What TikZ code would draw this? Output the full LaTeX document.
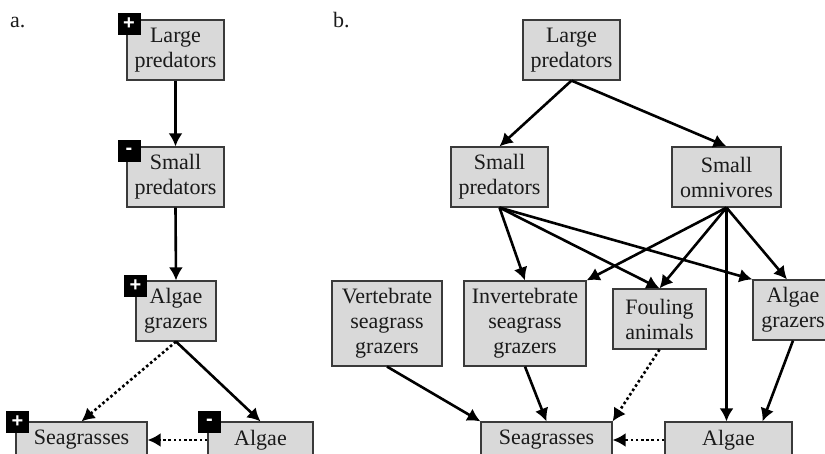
\documentclass[tikz,border=0pt]{standalone}
\usepackage{fontspec}
\setmainfont{Liberation Serif}
\newfontfamily\badgefont{Liberation Sans}
\usetikzlibrary{arrows.meta,calc}
\definecolor{boxfill}{HTML}{D9D9D9}
\definecolor{boxline}{HTML}{3A3A3A}
\definecolor{txt}{HTML}{1A1A1A}
\begin{document}
\begin{tikzpicture}[x=1pt,y=-1pt,
  box/.style={draw=boxline, fill=boxfill, line width=1.2pt, align=center, inner sep=0pt,
    font=\fontsize{22}{25}\selectfont, text=txt},
  badge/.style={fill=black, minimum width=23pt, minimum height=22pt, inner sep=0pt,
    text=white, font=\badgefont\bfseries\fontsize{20}{20}\selectfont},
  arr/.style={line width=2.6pt, -{Latex[length=13pt,width=14pt]}},
  dotarr/.style={arr, dash pattern=on 2.6pt off 2.6pt},
  lbl/.style={anchor=base west, inner sep=0pt, font=\fontsize{22}{25}\selectfont, text=txt}
]
\useasboundingbox (0,0) rectangle (825,453);
\clip (0,0) rectangle (825,453);

% panel labels
\node[lbl] (la) at (10,27) {a.};
\node[lbl] (lb) at (333,27) {b.};

% panel a
\node[box, minimum width=97pt, minimum height=60pt] (LPa) at (175.5,50) {Large\\predators};
\node[box, minimum width=97pt, minimum height=60pt] (SPa) at (175.5,177) {Small\\predators};
\node[box, minimum width=80pt, minimum height=60pt] (AGa) at (176,311) {Algae\\grazers};
\node[box, minimum width=131pt, minimum height=36pt] (SGa) at (81.5,440) {Seagrasses};
\node[box, minimum width=105pt, minimum height=36pt] (ALa) at (260.5,440) {Algae};

\node[badge] (bLPa) at (129,24) {+};
\node[badge] (bSPa) at (129,151) {-};
\node[badge] (bAGa) at (135.5,285.5) {+};
\node[badge] (bSGa) at (17.5,422) {+};
\node[badge] (bALa) at (209.5,422) {-};

\draw[arr] (LPa.south) -- (SPa.north);
\draw[arr] (SPa.south) -- (AGa.north);
\draw[dotarr] (AGa.south) -- (SGa.north);
\draw[arr] (AGa.south) -- (ALa.north);
\draw[dotarr] (ALa.west) -- (SGa.east);

% panel b
\node[box, minimum width=97pt, minimum height=60pt] (LPb) at (571.5,50) {Large\\predators};
\node[box, minimum width=97pt, minimum height=60pt] (SPb) at (499.5,177) {Small\\predators};
\node[box, minimum width=109pt, minimum height=60pt] (SOb) at (726.5,177) {Small\\omnivores};
\node[box, minimum width=110pt, minimum height=85pt] (VSb) at (387,323.5) {Vertebrate\\seagrass\\grazers};
\node[box, minimum width=122pt, minimum height=85pt] (ISb) at (525,323.5) {Invertebrate\\seagrass\\grazers};
\node[box, minimum width=93pt, minimum height=60pt] (FAb) at (659.5,319) {Fouling\\animals};
\node[box, minimum width=80pt, minimum height=60pt] (AGb) at (793,310) {Algae\\grazers};
\node[box, minimum width=131pt, minimum height=36pt] (SGb) at (546.5,440) {Seagrasses};
\node[box, minimum width=127pt, minimum height=36pt] (ALb) at (728.5,440) {Algae};

\draw[arr] (LPb.south) -- (SPb.north);
\draw[arr] (LPb.south) -- (SOb.north);
\draw[arr] (SPb.south) -- (ISb.north);
\draw[arr] (SPb.south) -- (FAb.north);
\draw[arr] (SPb.south) -- (AGb.north west);
\draw[arr] (SOb.south) -- (ISb.north east);
\draw[arr] (SOb.south) -- (FAb.north);
\draw[arr] (SOb.south) -- (SOb.south |- ALb.north);
\draw[arr] (SOb.south) -- ($(AGb.north)+(-6,0)$);
\draw[arr] (VSb.south) -- (SGb.north west);
\draw[arr] (ISb.south) -- (SGb.north);
\draw[dotarr] (FAb.south) -- (SGb.north east);
\draw[arr] (AGb.south) -- ($(ALb.north)+(34,0)$);
\draw[dotarr] (ALb.west) -- (SGb.east);
\end{tikzpicture}
\end{document}
